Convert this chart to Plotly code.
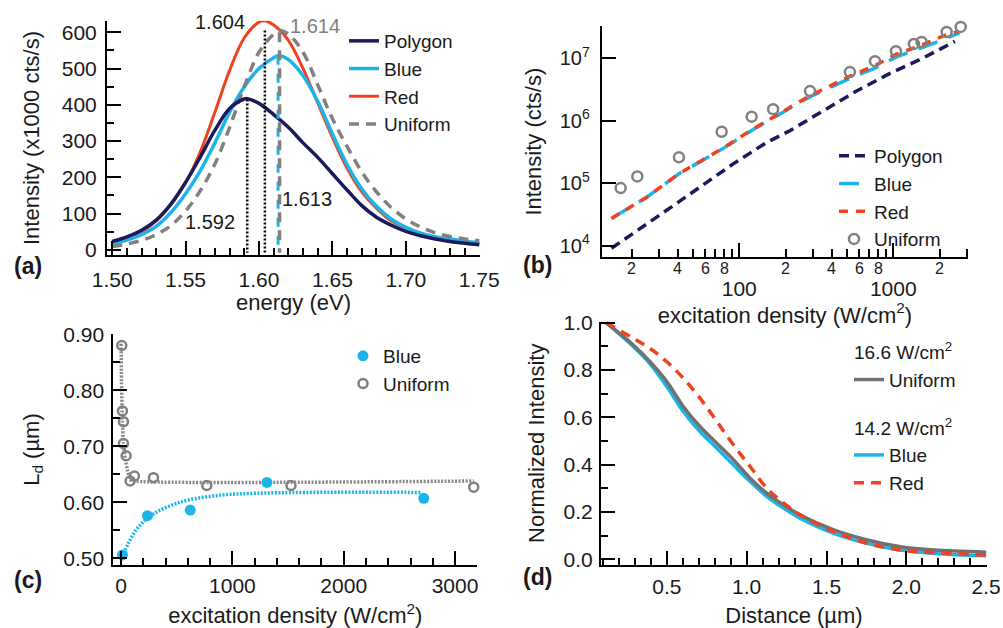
import numpy as np
import plotly.graph_objects as go

# ---------------- data ----------------
# (a) PL spectra, energy (eV) vs intensity (x1000 cts/s)
a_poly_E = [1.50, 1.51, 1.52, 1.53, 1.54, 1.55, 1.56, 1.57, 1.58, 1.59, 1.592, 1.60, 1.61, 1.62, 1.63, 1.64,
            1.65, 1.66, 1.67, 1.68, 1.69, 1.70, 1.71, 1.72, 1.73, 1.74, 1.75]
a_poly_I = [23, 36, 54, 82, 126, 186, 256, 330, 390, 416, 417, 404, 373, 338, 295, 255,
            210, 165, 122, 90, 68, 51, 39, 30, 23, 18, 14]
a_blue_E = [1.50, 1.51, 1.52, 1.53, 1.54, 1.55, 1.56, 1.57, 1.58, 1.59, 1.60, 1.61, 1.613, 1.62, 1.63, 1.64,
            1.65, 1.66, 1.67, 1.68, 1.69, 1.70, 1.71, 1.72, 1.73, 1.74, 1.75]
a_blue_I = [16, 27, 42, 65, 103, 155, 218, 295, 380, 450, 500, 530, 535, 525, 480, 410,
            320, 235, 168, 120, 85, 62, 46, 36, 30, 24, 20]
a_red_E = [1.50, 1.51, 1.52, 1.53, 1.54, 1.55, 1.56, 1.57, 1.58, 1.59, 1.60, 1.604, 1.61, 1.62, 1.63, 1.64,
           1.65, 1.66, 1.67, 1.68, 1.69, 1.70, 1.71, 1.72, 1.73, 1.74, 1.75]
a_red_I = [18, 31, 50, 80, 125, 185, 270, 380, 495, 585, 628, 632, 620, 578, 500, 405,
           310, 225, 160, 115, 80, 61, 45, 34, 27, 22, 18]
a_uni_E = [1.50, 1.51, 1.52, 1.53, 1.54, 1.55, 1.56, 1.57, 1.58, 1.59, 1.60, 1.61, 1.614, 1.62, 1.63, 1.64,
           1.65, 1.66, 1.67, 1.68, 1.69, 1.70, 1.71, 1.72, 1.73, 1.74, 1.75]
a_uni_I = [9, 16, 26, 42, 67, 107, 163, 237, 338, 450, 545, 595, 605, 595, 545, 455,
           362, 285, 215, 160, 117, 85, 63, 47, 37, 30, 25]
# peak markers (energy, height of the drop line)
a_peak_E = [1.592, 1.604, 1.613, 1.614]
a_peak_top = [415, 605, 535, 600]
a_peak_labels = ["1.592", "1.604", "1.613", "1.614"]

# (b) intensity vs excitation density (log-log)
b_poly_x = [14.8, 20.5, 33.8, 55.6, 91.4, 151, 213, 351, 578, 952, 1567, 2510]
b_poly_y = [9.1e3, 1.57e4, 3.7e4, 8.7e4, 2.05e5, 4.53e5, 6.95e5, 1.45e6, 3.01e6, 5.77e6, 1.02e7, 1.88e7]
b_blue_x = [14.8, 25.1, 40.6, 76.9, 123, 193, 285, 523, 761, 1041, 1445, 2221, 2700]
b_blue_y = [2.73e4, 6.0e4, 1.42e5, 3.5e5, 7.3e5, 1.40e6, 2.4e6, 4.8e6, 7.0e6, 1.05e7, 1.4e7, 2.1e7, 2.6e7]
b_red_x = [14.8, 25.1, 40.6, 76.9, 123, 193, 285, 523, 761, 1041, 1445, 2221, 2640]
b_red_y = [2.73e4, 6.0e4, 1.42e5, 3.56e5, 7.4e5, 1.45e6, 2.5e6, 5.2e6, 7.7e6, 1.16e7, 1.55e7, 2.41e7, 2.72e7]
b_uni_x = [17.0, 21.8, 40.6, 76.9, 120.4, 166, 288, 523, 761, 1041, 1362, 1527, 2221, 2741]
b_uni_y = [8.4e4, 1.29e5, 2.61e5, 6.7e5, 1.17e6, 1.54e6, 3.0e6, 6.05e6, 9.06e6, 1.31e7, 1.71e7, 1.84e7, 2.65e7, 3.2e7]
b_major_ticks = [100, 1000]
b_major_text = ["100", "1000"]
b_minor_ticks = [20, 30, 40, 50, 60, 70, 80, 90, 200, 300, 400, 500, 600, 700, 800, 900, 2000, 3000]
b_minor_label_vals = [20, 40, 60, 80, 200, 400, 600, 800, 2000]
b_minor_label_text = ["2", "4", "6", "8", "2", "4", "6", "8", "2"]
b_y_ticks = [1e4, 1e5, 1e6, 1e7]
b_y_text = ["10<sup>4</sup>", "10<sup>5</sup>", "10<sup>6</sup>", "10<sup>7</sup>"]

# (c) diffusion length vs excitation density
c_blue_x = [12, 237, 621, 1310, 2719]
c_blue_y = [0.506, 0.576, 0.586, 0.6355, 0.607]
c_blue_fit_x = [12, 66, 156, 306, 456, 606, 905, 1205, 1655, 2704]
c_blue_fit_y = [0.503, 0.527, 0.556, 0.581, 0.595, 0.604, 0.613, 0.616, 0.6176, 0.6176]
c_uni_x = [6, 12, 21, 21, 45, 81, 120, 291, 770, 1526, 3168]
c_uni_y = [0.880, 0.763, 0.744, 0.705, 0.683, 0.638, 0.647, 0.644, 0.630, 0.630, 0.627]
c_uni_fit_x = [0, 5, 12, 21, 40, 60, 81, 110, 3168]
c_uni_fit_y = [0.883, 0.80, 0.745, 0.705, 0.675, 0.655, 0.641, 0.638, 0.638]

# (d) normalized intensity profiles
d_x = [0.12, 0.29, 0.395, 0.5, 0.604, 0.709, 0.814, 0.918, 1.023, 1.127, 1.232, 1.336, 1.545, 1.755,
       1.964, 2.173, 2.5]
d_uni_y = [1.0, 0.906, 0.835, 0.751, 0.645, 0.560, 0.490, 0.420, 0.342, 0.279, 0.2295, 0.187, 0.124,
           0.0816, 0.053, 0.039, 0.030]
d_blue_y = [1.0, 0.899, 0.826, 0.73, 0.624, 0.539, 0.469, 0.398, 0.328, 0.265, 0.216, 0.173, 0.110,
            0.0675, 0.039, 0.025, 0.015]
d_red_y = [1.0, 0.934, 0.891, 0.835, 0.765, 0.68, 0.582, 0.483, 0.391, 0.30, 0.237, 0.187, 0.117,
           0.0675, 0.039, 0.028, 0.018]

# ---------------- style ----------------
W, H = 1003, 628
FONT = "Liberation Sans, Arial, sans-serif"
NAVY = "#1b1a5c"
BLUE = "#1db4ea"
RED = "#f0421f"
GRAY = "#808080"
DGRAY = "#717171"
TXT = "#1a1a1a"


def fx(px):
    return px / W


def fy(py):
    return 1 - py / H


fig = go.Figure()

# ---- (a)
fig.add_trace(go.Scatter(x=a_red_E, y=a_red_I, mode="lines", name="Red", legendrank=3,
                         line=dict(color=RED, width=3, shape="spline"), xaxis="x", yaxis="y", legend="legend"))
fig.add_trace(go.Scatter(x=a_blue_E, y=a_blue_I, mode="lines", name="Blue", legendrank=2,
                         line=dict(color=BLUE, width=3.5, shape="spline"), xaxis="x", yaxis="y", legend="legend"))
fig.add_trace(go.Scatter(x=a_uni_E, y=a_uni_I, mode="lines", name="Uniform", legendrank=4,
                         line=dict(color=GRAY, width=3.5, dash="10px,7px", shape="spline"),
                         xaxis="x", yaxis="y", legend="legend"))
fig.add_trace(go.Scatter(x=a_poly_E, y=a_poly_I, mode="lines", name="Polygon", legendrank=1,
                         line=dict(color=NAVY, width=3.5, shape="spline"), xaxis="x", yaxis="y", legend="legend"))
drop_styles = [dict(color="black", width=2.5, dash="2px,2px"),
               dict(color="black", width=2.5, dash="2px,2px"),
               dict(color=BLUE, width=3, dash="9px,9px"),
               dict(color=GRAY, width=3.5, dash="10px,8px")]
for e, top, st in zip(a_peak_E, a_peak_top, drop_styles):
    fig.add_trace(go.Scatter(x=[e, e], y=[top, -8], mode="lines", line=st, showlegend=False,
                             hoverinfo="skip", xaxis="x", yaxis="y"))

# ---- (b)
fig.add_trace(go.Scatter(x=b_poly_x, y=b_poly_y, mode="lines", name="Polygon",
                         line=dict(color=NAVY, width=3.5, dash="10px,6px"), xaxis="x2", yaxis="y2", legend="legend2"))
fig.add_trace(go.Scatter(x=b_blue_x, y=b_blue_y, mode="lines", name="Blue",
                         line=dict(color=BLUE, width=3.5, dash="20px,12px"), xaxis="x2", yaxis="y2", legend="legend2"))
fig.add_trace(go.Scatter(x=b_red_x, y=b_red_y, mode="lines", name="Red",
                         line=dict(color=RED, width=3.5, dash="9px,8px"), xaxis="x2", yaxis="y2", legend="legend2"))
fig.add_trace(go.Scatter(x=b_uni_x, y=b_uni_y, mode="markers", name="Uniform", cliponaxis=False,
                         marker=dict(symbol="circle-open", size=10, color=GRAY, line=dict(width=2.5, color=GRAY)),
                         xaxis="x2", yaxis="y2", legend="legend2"))

# ---- (c)
fig.add_trace(go.Scatter(x=c_uni_fit_x, y=c_uni_fit_y, mode="lines", showlegend=False, hoverinfo="skip",
                         line=dict(color="#888888", width=3.5, dash="2px,1.5px", shape="spline", smoothing=0.6),
                         xaxis="x3", yaxis="y3"))
fig.add_trace(go.Scatter(x=c_blue_fit_x, y=c_blue_fit_y, mode="lines", showlegend=False, hoverinfo="skip",
                         line=dict(color=BLUE, width=3.5, dash="2px,1.5px", shape="spline"),
                         xaxis="x3", yaxis="y3"))
fig.add_trace(go.Scatter(x=c_blue_x, y=c_blue_y, mode="markers", name="Blue", cliponaxis=False,
                         marker=dict(symbol="circle", size=11, color=BLUE),
                         xaxis="x3", yaxis="y3", legend="legend3"))
fig.add_trace(go.Scatter(x=c_uni_x, y=c_uni_y, mode="markers", name="Uniform", cliponaxis=False,
                         marker=dict(symbol="circle-open", size=9, color=GRAY, line=dict(width=2.5, color=GRAY)),
                         xaxis="x3", yaxis="y3", legend="legend3"))

# ---- (d)
fig.add_trace(go.Scatter(x=d_x, y=d_blue_y, mode="lines", name="Blue", legendgroup="g2", legendrank=2,
                         legendgrouptitle=dict(text="14.2 W/cm<sup>2</sup>"),
                         line=dict(color=BLUE, width=3.5, shape="spline"), xaxis="x4", yaxis="y4", legend="legend4"))
fig.add_trace(go.Scatter(x=d_x, y=d_uni_y, mode="lines", name="Uniform", legendgroup="g1", legendrank=1,
                         legendgrouptitle=dict(text="16.6 W/cm<sup>2</sup>"),
                         line=dict(color=DGRAY, width=3.5, shape="spline"), xaxis="x4", yaxis="y4", legend="legend4"))
fig.add_trace(go.Scatter(x=d_x, y=d_red_y, mode="lines", name="Red", legendgroup="g2", legendrank=3,
                         line=dict(color=RED, width=3.5, dash="10px,7px", shape="spline"),
                         xaxis="x4", yaxis="y4", legend="legend4"))

# ---------------- axes ----------------
common = dict(showline=True, linewidth=2, linecolor="black", ticks="inside", tickwidth=2, tickcolor="black",
              ticklen=14, showgrid=False, zeroline=False, mirror=False, tickfont=dict(size=21, color=TXT),
              title_font=dict(size=22, color=TXT))
minor_common = dict(ticks="inside", ticklen=7, tickwidth=2, tickcolor="black", showgrid=False)

fig.update_layout(
    xaxis=dict(common, domain=[fx(107), fx(480)], anchor="y", range=[1.4965, 1.7505],
               tick0=1.5, dtick=0.05, tickformat=".2f", minor=dict(minor_common, dtick=0.01),
               ticklabelstandoff=4, title=dict(text="energy (eV)", standoff=2)),
    yaxis=dict(common, domain=[fy(255.3), fy(20.7)], anchor="x", range=[-15, 632],
               tick0=0, dtick=100, minor=dict(minor_common, dtick=50),
               ticklabelstandoff=4, title=dict(text="Intensity (x1000 cts/s)", standoff=16)),
    xaxis2=dict(common, domain=[fx(601.7), fx(968.3)], anchor="y2", type="log",
                range=[np.log10(12.8), np.log10(3070)], tickmode="array",
                tickvals=b_major_ticks, ticktext=b_major_text, ticklabelstandoff=11,
                minor=dict(minor_common, ticklen=8, tickmode="array", tickvals=b_minor_ticks),
                title=dict(text="excitation density (W/cm<sup>2</sup>)", standoff=5)),
    yaxis2=dict(common, domain=[fy(257.3), fy(26)], anchor="x2", type="log",
                range=[3.815, 7.52], tickmode="array", tickvals=b_y_ticks, ticktext=b_y_text,
                tickfont=dict(size=20, color=TXT),
                ticklabelstandoff=6, title=dict(text="Intensity (cts/s)", standoff=12)),
    xaxis3=dict(common, domain=[fx(113.3), fx(477.3)], anchor="y3", range=[-70, 3200],
                tick0=0, dtick=1000, minor=dict(minor_common, dtick=200), ticklabelstandoff=1,
                title=dict(text="excitation density (W/cm<sup>2</sup>)", standoff=13)),
    yaxis3=dict(common, domain=[fy(565), fy(334)], anchor="x3", range=[0.488, 0.9005],
                tick0=0.5, dtick=0.1, tickformat=".2f", minor=dict(minor_common, dtick=0.05),
                ticklabelstandoff=3, title=dict(text="L<sub>d</sub> (µm)", standoff=18)),
    xaxis4=dict(common, domain=[fx(601), fx(987)], anchor="y4", range=[0.088, 2.505],
                tick0=0, dtick=0.5, tickformat=".1f", minor=dict(minor_common, dtick=0.1),
                ticklabelstandoff=2, title=dict(text="Distance (µm)", standoff=12)),
    yaxis4=dict(common, domain=[fy(565), fy(321.5)], anchor="x4", range=[-0.024, 1.005],
                tick0=0, dtick=0.2, tickformat=".1f", minor=dict(minor_common, dtick=0.1),
                ticklabelstandoff=2, title=dict(text="Normalized Intensity", standoff=13)),
)

# ---------------- legends ----------------
leg = dict(bgcolor="rgba(0,0,0,0)", borderwidth=0, font=dict(size=19, color=TXT), xanchor="left",
           yanchor="top", tracegroupgap=0, itemclick=False)
fig.update_layout(
    legend=dict(leg, x=fx(344), y=fy(22)),
    legend2=dict(leg, x=fx(834), y=fy(137)),
    legend3=dict(leg, x=fx(343), y=fy(337)),
    legend4=dict(leg, x=fx(849), y=fy(333), traceorder="grouped", tracegroupgap=20,
                 grouptitlefont=dict(size=19, color=TXT)),
)

# ---------------- annotations ----------------
ann = []
# peak value labels
peak_ann = [(-10, 222, "right", TXT), (-18, 22, "right", TXT),
            (2, 199, "left", TXT), (8, 26, "left", GRAY)]
for (dx, py, xa, col), e, txt in zip(peak_ann, a_peak_E, a_peak_labels):
    ann.append(dict(x=e, xref="x", y=fy(py), yref="paper", text=txt, showarrow=False, xanchor=xa,
                    yanchor="middle", xshift=dx, font=dict(size=20, color=col)))
# minor log tick labels in (b)
for v, t in zip(b_minor_label_vals, b_minor_label_text):
    ann.append(dict(x=np.log10(v), xref="x2", y=fy(268.5), yref="paper", text=t, showarrow=False,
                    xanchor="center", yanchor="middle", font=dict(size=16, color=TXT)))
# panel labels
for t, px, py in [("(a)", 28, 266), ("(b)", 537, 265), ("(c)", 28, 580), ("(d)", 537, 577)]:
    ann.append(dict(x=fx(px), y=fy(py), xref="paper", yref="paper", text="<b>%s</b>" % t, showarrow=False,
                    xanchor="center", yanchor="middle", font=dict(size=23, color=TXT)))

fig.update_layout(
    width=W, height=H, margin=dict(l=0, r=0, t=0, b=0, autoexpand=False),
    paper_bgcolor="white", plot_bgcolor="white",
    font=dict(family=FONT, size=20, color=TXT),
    annotations=ann, hovermode=False,
)

fig.write_html("out.html", config={"displayModeBar": False},
               post_script="document.body.style.margin='0px';document.body.style.overflow='hidden';")
